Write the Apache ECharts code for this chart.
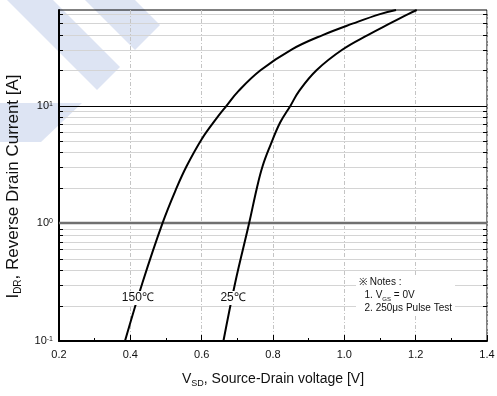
<!DOCTYPE html>
<html>
<head>
<meta charset="utf-8">
<script src="https://cdn.jsdelivr.net/npm/echarts@6/dist/echarts.min.js"></script>
<style>
  html, body { margin: 0; padding: 0; background: #fff; }
  #main { width: 497px; height: 396px; }
</style>
</head>
<body>
<div id="main"></div>
<script>
// curve data
const vsd150 = [0.385, 0.434, 0.490, 0.530, 0.558, 0.600, 0.640, 0.670, 0.703, 0.765, 0.852, 0.941, 1.025, 1.100, 1.145];
const idr150 = [0.1, 0.313, 1, 2.01, 3.07, 5.19, 7.68, 10, 13.3, 20, 30, 40, 50, 60, 65];
const vsd25 = [0.661, 0.694, 0.733, 0.755, 0.771, 0.792, 0.820, 0.849, 0.873, 0.922, 0.995, 1.067, 1.128, 1.179, 1.203];
const idr25 = [0.1, 0.313, 1, 2.01, 3.07, 4.55, 7.19, 10, 13.3, 20, 30, 40, 50, 60, 65];

// axis ranges and grid lines
const xMin = 0.2, xMax = 1.4, xStep = 0.2;
const yMin = 0.1, yMax = 65;
const majorY = [1, 10];
const minorY = [0.2, 0.3, 0.4, 0.5, 0.6, 0.7, 0.8, 0.9, 2, 3, 4, 5, 6, 7, 8, 9, 20, 30, 40, 50, 60];

const font = 'Liberation Sans, Arial, sans-serif';
const pair = (xs, ys) => xs.map((x, i) => [x, ys[i]]);

function minorItem(params, api) {
  const cs = params.coordSys;
  const y = Math.round(api.coord([api.value(0), api.value(1)])[1]) + 0.5;
  return {
    type: 'group',
    children: [
      { type: 'line', shape: { x1: cs.x, y1: y, x2: cs.x + cs.width, y2: y }, style: { stroke: '#d4d4d4', lineWidth: 1 } },
      { type: 'line', shape: { x1: cs.x, y1: y, x2: cs.x + 4, y2: y }, style: { stroke: '#000', lineWidth: 1 } },
      { type: 'line', shape: { x1: cs.x + cs.width - 4, y1: y, x2: cs.x + cs.width, y2: y }, style: { stroke: '#000', lineWidth: 1 } }
    ]
  };
}

function majorItem(params, api) {
  const cs = params.coordSys;
  const v = api.value(1);
  const y = Math.round(api.coord([api.value(0), v])[1]);
  const thick = v < 5;
  return {
    type: 'line',
    shape: { x1: cs.x, y1: thick ? y : y + 0.5, x2: cs.x + cs.width, y2: thick ? y : y + 0.5 },
    style: { stroke: thick ? '#707070' : '#000', lineWidth: thick ? 2.5 : 1 }
  };
}

function powLabel(v) {
  const e = Math.round(Math.log10(v));
  if (Math.abs(v - Math.pow(10, e)) / Math.pow(10, e) > 1e-6) return '';
  return '10{sup|' + e + '}';
}

const curveLabel = {
  show: true, position: 'inside', fontSize: 12, color: '#111',
  backgroundColor: '#fff', padding: [1, 1, 1, 1], fontFamily: font
};

const chart = echarts.init(document.getElementById('main'));
chart.setOption({
  animation: false,
  backgroundColor: '#fff',
  textStyle: { fontFamily: font },
  grid: {
    left: 59, right: 10, top: 10, bottom: 55,
    containLabel: false, outerBoundsMode: 'none',
    show: true, borderColor: '#000', borderWidth: 1
  },
  graphic: [
    { type: 'polygon', z: -10, silent: true, shape: { points: [[7, 0], [53, 0], [120, 67], [97, 90]] }, style: { fill: '#dde4f3' } },
    { type: 'polygon', z: -10, silent: true, shape: { points: [[85, 0], [135, 0], [160, 25], [135, 50]] }, style: { fill: '#dde4f3' } },
    { type: 'polygon', z: -10, silent: true, shape: { points: [[0, 103], [82, 103], [41, 142], [0, 142]] }, style: { fill: '#dde4f3' } },
    {
      type: 'text', left: 356, top: 275, z: 20,
      style: {
        text: '※ Notes :\n  1. V{sub|GS} = 0V\n  2. 250μs Pulse Test',
        font: '10px ' + font, fill: '#111', lineHeight: 13,
        backgroundColor: '#fff', padding: [1, 3, 1, 3],
        rich: { sub: { fontSize: 6, verticalAlign: 'bottom', lineHeight: 9, fill: '#111' } }
      }
    }
  ],
  xAxis: {
    type: 'value', min: xMin, max: xMax, interval: xStep,
    name: 'V{sub|SD}, Source-Drain voltage [V]',
    nameLocation: 'middle', nameGap: 29,
    nameTextStyle: {
      fontSize: 14, color: '#111', fontFamily: font, lineHeight: 18,
      rich: { sub: { fontSize: 9, verticalAlign: 'bottom', lineHeight: 10, color: '#111' } }
    },
    axisLine: { lineStyle: { color: '#000', width: 2 } },
    axisTick: { inside: true, length: 6, lineStyle: { color: '#000' } },
    minorTick: { show: true, splitNumber: 2, length: 3, lineStyle: { color: '#000' } },
    axisLabel: { fontSize: 11, color: '#111', margin: 8, formatter: v => v.toFixed(1) },
    splitLine: { show: true, lineStyle: { color: '#c4c4c4', width: 1, type: [4, 2, 1, 2] } }
  },
  yAxis: {
    type: 'log', logBase: 10, min: yMin, max: yMax,
    name: 'I{sub|DR}, Reverse Drain Current [A]',
    nameLocation: 'middle', nameRotate: 90, nameGap: 25,
    nameTextStyle: {
      fontSize: 17, color: '#111', fontFamily: font, lineHeight: 21, padding: [0, 22, 0, 0],
      rich: { sub: { fontSize: 10, verticalAlign: 'bottom', lineHeight: 11, color: '#111' } }
    },
    axisLine: { show: true, lineStyle: { color: '#000', width: 2 } },
    axisTick: { show: false },
    minorTick: { show: false },
    splitLine: { show: false },
    axisLabel: {
      fontSize: 11, color: '#111', margin: 6, formatter: powLabel,
      rich: { sup: { fontSize: 7, verticalAlign: 'top', lineHeight: 8, color: '#111' } }
    }
  },
  series: [
    {
      type: 'custom', z: 1, silent: true, clip: false,
      renderItem: minorItem,
      encode: { x: 0, y: 1 },
      data: minorY.map(v => [xMin, v])
    },
    {
      type: 'custom', z: 2, silent: true, clip: false,
      renderItem: majorItem,
      encode: { x: 0, y: 1 },
      data: majorY.map(v => [xMin, v])
    },
    {
      name: '150℃', type: 'line', z: 3, smooth: 0.4, symbol: 'none',
      lineStyle: { color: '#000', width: 2 },
      data: pair(vsd150, idr150),
      markPoint: {
        z: 10, symbol: 'rect', symbolSize: 1, itemStyle: { color: 'transparent' },
        label: Object.assign({ formatter: '150℃' }, curveLabel),
        data: [{ coord: [0.421, 0.232] }]
      }
    },
    {
      name: '25℃', type: 'line', z: 3, smooth: 0.4, symbol: 'none',
      lineStyle: { color: '#000', width: 2 },
      data: pair(vsd25, idr25),
      markPoint: {
        z: 10, symbol: 'rect', symbolSize: 1, itemStyle: { color: 'transparent' },
        label: Object.assign({ formatter: '25℃' }, curveLabel),
        data: [{ coord: [0.688, 0.232] }]
      }
    }
  ]
});
</script>
</body>
</html>
